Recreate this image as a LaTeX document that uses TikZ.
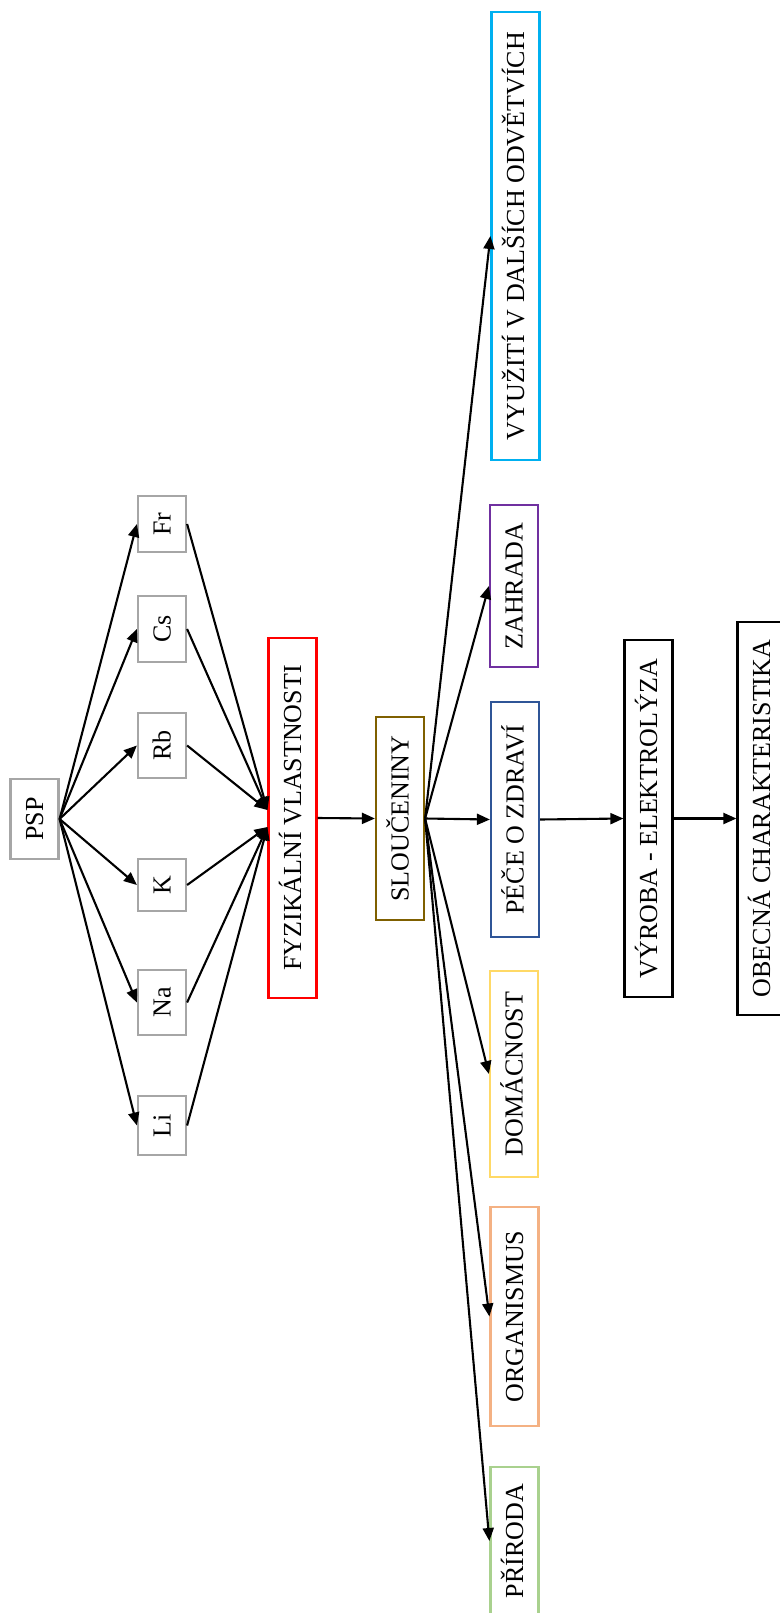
\documentclass[tikz,border=0pt]{standalone}
\usepackage{fontspec}
\setmainfont{Liberation Serif}
\usetikzlibrary{arrows.meta}

\definecolor{elgray}{HTML}{A6A6A6}
\definecolor{fyzred}{HTML}{FF0000}
\definecolor{slbrown}{HTML}{7F6000}
\definecolor{peceblue}{HTML}{2F5597}
\definecolor{zahpurple}{HTML}{7030A0}
\definecolor{vyuzblue}{HTML}{00B0F0}
\definecolor{domyellow}{HTML}{FFD966}
\definecolor{orgorange}{HTML}{F4B183}
\definecolor{prigreen}{HTML}{A9D18E}

% upright text turned to read bottom-to-top
\newcommand{\vlabel}[1]{\rotatebox{90}{\smash{#1}\vphantom{X}}}

\begin{document}
\begin{tikzpicture}[x=1pt, y=-1pt,
    box/.style={rectangle, draw, line width=2.2pt, minimum width=48pt, inner sep=0pt, font=\fontsize{26}{30}\selectfont},
    element/.style={box, draw=elgray},
    arrow/.style={-{Triangle[length=13pt, width=11pt]}, line width=2.1pt}
]
\useasboundingbox (0,0) rectangle (779,1613);

% PSP and the alkali metals
\node[element, minimum height=80pt] (psp) at (34.5, 819) {\vlabel{PSP}};
\node[element, minimum height=56pt] (fr) at (162, 524) {\vlabel{Fr}};
\node[element, minimum height=66pt] (cs) at (162, 629) {\vlabel{Cs}};
\node[element, minimum height=65pt] (rb) at (162, 745.5) {\vlabel{Rb}};
\node[element, minimum height=52pt] (k) at (162, 885) {\vlabel{K}};
\node[element, minimum height=65pt] (na) at (162, 1002.5) {\vlabel{Na}};
\node[element, minimum height=59pt] (li) at (162, 1125.5) {\vlabel{Li}};

% main line
\node[box, draw=fyzred, minimum height=360pt] (fyz) at (292.5, 818) {\vlabel{FYZIKÁLNÍ VLASTNOSTI}};
\node[box, draw=slbrown, minimum height=203pt] (slouc) at (400, 818.5) {\vlabel{SLOUČENINY}};

% uses of the compounds
\node[box, draw=vyuzblue, minimum height=448pt] (vyuziti) at (515.5, 236) {\vlabel{VYUŽITÍ V DALŠÍCH ODVĚTVÍCH}};
\node[box, draw=zahpurple, minimum height=162pt] (zahrada) at (514, 586) {\vlabel{ZAHRADA}};
\node[box, draw=peceblue, minimum height=235pt] (pece) at (515, 819.5) {\vlabel{PÉČE O ZDRAVÍ}};
\node[box, draw=domyellow, minimum height=206pt] (domac) at (514, 1074) {\vlabel{DOMÁCNOST}};
\node[box, draw=orgorange, minimum height=219pt] (organ) at (514.5, 1316.5) {\vlabel{ORGANISMUS}};
\node[box, draw=prigreen, minimum height=148pt] (priroda) at (514.5, 1541) {\vlabel{PŘÍRODA}};

% production and overview
\node[box, minimum height=357pt] (vyroba) at (648.5, 818.5) {\vlabel{VÝROBA - ELEKTROLÝZA}};
\node[box, minimum height=393pt] (obecna) at (761.5, 818.5) {\vlabel{OBECNÁ CHARAKTERISTIKA}};

% arrows
\foreach \el in {fr,cs,rb,k,na,li}
    \draw[arrow] (psp.east) -- (\el.west);
\foreach \el in {fr,cs,rb}
    \draw[arrow] (\el.east) -- ([yshift=8pt]fyz.west);
\foreach \el in {k,na,li}
    \draw[arrow] (\el.east) -- ([yshift=-9pt]fyz.west);
\draw[arrow] (fyz.east) -- (slouc.west);
\foreach \use in {vyuziti,zahrada,pece,domac,organ,priroda}
    \draw[arrow] (slouc.east) -- (\use.west);
\draw[arrow] (pece.east) -- (vyroba.west);
\draw[arrow] (vyroba.east) -- (obecna.west);

\end{tikzpicture}
\end{document}
